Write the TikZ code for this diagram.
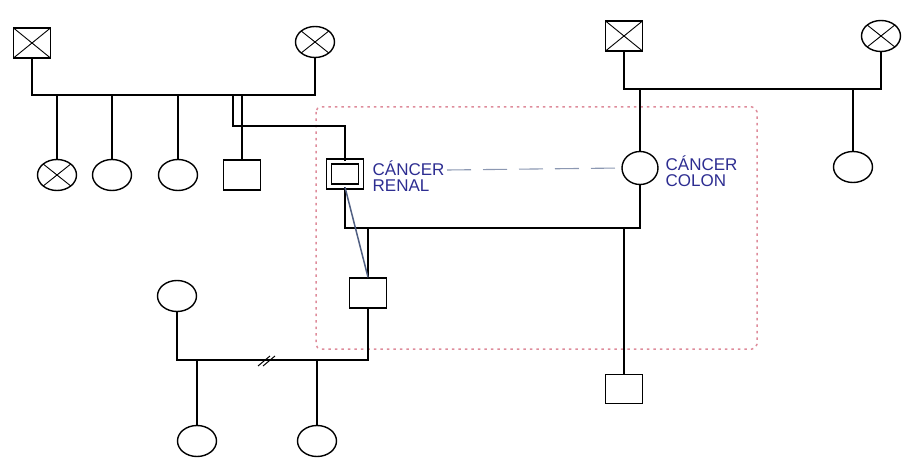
\documentclass[tikz,border=0pt]{standalone}
\usepackage{fontspec}
\setsansfont{Liberation Sans}
\usepackage{xcolor}
\usetikzlibrary{shapes.geometric,calc}

\definecolor{labelblue}{RGB}{45,45,145}
\definecolor{linkgray}{RGB}{140,152,178}
\definecolor{boxpink}{RGB}{222,140,155}
\definecolor{heirblue}{RGB}{80,95,130}

\begin{document}
\begin{tikzpicture}[
  x=1pt, y=-1pt, line width=1.4pt,
  male/.style={draw, rectangle, minimum width=37pt, minimum height=30pt, inner sep=0pt},
  female/.style={draw, ellipse, minimum width=39pt, minimum height=31pt, inner sep=0pt},
  dead/.style={path picture={\draw[line width=0.9pt]
      (path picture bounding box.north west) -- (path picture bounding box.south east)
      (path picture bounding box.north east) -- (path picture bounding box.south west);}},
  proband/.style={male, double, double distance=3.5pt, minimum width=32pt, minimum height=25pt},
  lbl/.style={text=labelblue, font=\sffamily\fontsize{17}{16}\selectfont, align=left, anchor=west, inner sep=0pt},
  link/.style={draw=linkgray, line width=1.1pt, dash pattern=on 24pt off 12pt}
]
  \useasboundingbox (0,0) rectangle (905,465);

  % grupo de riesgo
  \draw[boxpink, line width=1.5pt, dash pattern=on 2.5pt off 4pt, rounded corners=5pt]
    (316,107) rectangle (757,349);

  % familia paterna
  \node[male, dead] (gfa) at (32,43) {};
  \node[female, dead] (gma) at (315,42) {};
  \coordinate (ua) at (32,95);
  \coordinate (ub) at (315,95);
  \draw (gfa) -- (ua) -- (ub) -- (gma);

  \node[female, dead] (sis1) at (57,175) {};
  \node[female] (sis2) at (112,175) {};
  \node[female] (sis3) at (178,175) {};
  \node[male] (bro) at (242,175) {};
  \node[proband] (renal) at (345,174) {};
  \node[lbl] (renaltxt) at (372,176) {CÁNCER\\RENAL};

  \draw (sis1) -- (sis1 |- ua);
  \draw (sis2) -- (sis2 |- ua);
  \draw (sis3) -- (sis3 |- ua);
  \draw (bro) -- (bro |- ua);
  \coordinate (sa) at (233,95);
  \coordinate (sb) at (233,126);
  \draw (sa) -- (sb) -| (renal);

  % familia materna
  \node[male, dead] (gfb) at (624,36) {};
  \node[female, dead] (gmb) at (881,36) {};
  \coordinate (va) at (624,89);
  \coordinate (vb) at (881,89);
  \draw (gfb) -- (va) -- (vb) -- (gmb);

  \node[female, minimum width=36pt, minimum height=33pt] (colon) at (640,168) {};
  \node[lbl] (colontxt) at (665,171) {CÁNCER\\COLON};
  \node[female] (aunt) at (853,167) {};
  \draw (colon) -- (colon |- va);
  \draw (aunt) -- (aunt |- va);

  \coordinate (lk) at (447,170);
  \draw[link] (lk) -- (colon.west);

  % pareja e hijos
  \coordinate (m1) at (345,228);
  \draw (renal) -- (m1) -| (colon);
  \node[male] (son1) at (368,293) {};
  \node[male, minimum height=29pt] (son2) at (624,389) {};
  \draw (son1) -- (son1 |- m1);
  \draw (son2) -- (son2 |- m1);
  \draw[heirblue, line width=1.5pt] (renal.south) -- (son1.north);

  % segunda generacion
  \node[female] (wife) at (177,296) {};
  \coordinate (m2) at (177,360);
  \draw (wife) -- (m2) -| (son1);
  \coordinate (dv) at (268,360);
  \draw[line width=1pt] (dv) ++(-10,6) -- ++(12,-10) (dv) ++(-5,6) -- ++(12,-10);

  \node[female] (gd1) at (197,441) {};
  \node[female] (gd2) at (317,441) {};
  \draw (gd1) -- (gd1 |- m2);
  \draw (gd2) -- (gd2 |- m2);
\end{tikzpicture}
\end{document}
